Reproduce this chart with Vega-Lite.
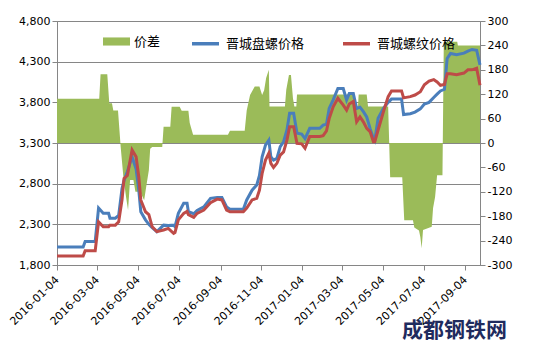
{
  "$schema": "https://vega.github.io/schema/vega-lite/v6.json",
  "width": 423,
  "height": 244,
  "autosize": {"type": "none"},
  "padding": {"left": 57, "top": 21, "right": 55, "bottom": 89},
  "background": "white",
  "title": {
    "text": "成都钢铁网",
    "orient": "bottom",
    "anchor": "end",
    "frame": "bounds",
    "offset": -7,
    "dx": -5,
    "font": "Noto Sans CJK SC",
    "fontSize": 21,
    "fontWeight": "bold",
    "color": "#1F2B5E"
  },
  "datasets": {
    "prices": [
      {"date": "2016-01-04", "晋城盘螺价格": 2020, "晋城螺纹价格": 1910},
      {"date": "2016-02-12", "晋城盘螺价格": 2020, "晋城螺纹价格": 1910},
      {"date": "2016-02-15", "晋城盘螺价格": 2090, "晋城螺纹价格": 1975},
      {"date": "2016-03-01", "晋城盘螺价格": 2090, "晋城螺纹价格": 1975},
      {"date": "2016-03-06", "晋城盘螺价格": 2500, "晋城螺纹价格": 2330},
      {"date": "2016-03-13", "晋城盘螺价格": 2435, "晋城螺纹价格": 2270},
      {"date": "2016-03-21", "晋城盘螺价格": 2435, "晋城螺纹价格": 2270},
      {"date": "2016-03-23", "晋城盘螺价格": 2375, "晋城螺纹价格": 2290},
      {"date": "2016-03-31", "晋城盘螺价格": 2375, "晋城螺纹价格": 2290},
      {"date": "2016-04-05", "晋城盘螺价格": 2410, "晋城螺纹价格": 2330},
      {"date": "2016-04-10", "晋城盘螺价格": 2740, "晋城螺纹价格": 2600},
      {"date": "2016-04-13", "晋城盘螺价格": 2840, "晋城螺纹价格": 2865},
      {"date": "2016-04-18", "晋城盘螺价格": 2950, "晋城螺纹价格": 2900},
      {"date": "2016-04-25", "晋城盘螺价格": 3130, "晋城螺纹价格": 3215},
      {"date": "2016-05-01", "晋城盘螺价格": 2980, "晋城螺纹价格": 3130},
      {"date": "2016-05-05", "晋城盘螺价格": 2720, "晋城螺纹价格": 2885},
      {"date": "2016-05-08", "晋城盘螺价格": 2455, "晋城螺纹价格": 2600},
      {"date": "2016-05-15", "晋城盘螺价格": 2355, "晋城螺纹价格": 2455},
      {"date": "2016-05-20", "晋城盘螺价格": 2300, "晋城螺纹价格": 2420},
      {"date": "2016-05-25", "晋城盘螺价格": 2260, "晋城螺纹价格": 2270},
      {"date": "2016-06-01", "晋城盘螺价格": 2210, "晋城螺纹价格": 2210},
      {"date": "2016-06-11", "晋城盘螺价格": 2290, "晋城螺纹价格": 2230},
      {"date": "2016-06-18", "晋城盘螺价格": 2285, "晋城螺纹价格": 2250},
      {"date": "2016-06-26", "晋城盘螺价格": 2290, "晋城螺纹价格": 2190},
      {"date": "2016-06-28", "晋城盘螺价格": 2270, "晋城螺纹价格": 2200},
      {"date": "2016-07-03", "晋城盘螺价格": 2435, "晋城螺纹价格": 2355},
      {"date": "2016-07-11", "晋城盘螺价格": 2560, "晋城螺纹价格": 2435},
      {"date": "2016-07-16", "晋城盘螺价格": 2560, "晋城螺纹价格": 2460},
      {"date": "2016-07-18", "晋城盘螺价格": 2455, "晋城螺纹价格": 2420},
      {"date": "2016-07-26", "晋城盘螺价格": 2430, "晋城螺纹价格": 2385},
      {"date": "2016-07-31", "晋城盘螺价格": 2470, "晋城螺纹价格": 2435},
      {"date": "2016-08-10", "晋城盘螺价格": 2515, "晋城螺纹价格": 2475},
      {"date": "2016-08-20", "晋城盘螺价格": 2620, "晋城螺纹价格": 2565},
      {"date": "2016-08-30", "晋城盘螺价格": 2630, "晋城螺纹价格": 2610},
      {"date": "2016-09-06", "晋城盘螺价格": 2630, "晋城螺纹价格": 2600},
      {"date": "2016-09-13", "晋城盘螺价格": 2515, "晋城螺纹价格": 2475},
      {"date": "2016-09-18", "晋城盘螺价格": 2485, "晋城螺纹价格": 2455},
      {"date": "2016-10-08", "晋城盘螺价格": 2485, "晋城螺纹价格": 2455},
      {"date": "2016-10-13", "晋城盘螺价格": 2600, "晋城螺纹价格": 2500},
      {"date": "2016-10-21", "晋城盘螺价格": 2720, "晋城螺纹价格": 2600},
      {"date": "2016-10-28", "晋城盘螺价格": 2785, "晋城螺纹价格": 2620},
      {"date": "2016-11-01", "晋城盘螺价格": 2900, "晋城螺纹价格": 2720},
      {"date": "2016-11-05", "晋城盘螺价格": 3130, "晋城螺纹价格": 2925},
      {"date": "2016-11-10", "晋城盘螺价格": 3275, "晋城螺纹价格": 3090},
      {"date": "2016-11-15", "晋城盘螺价格": 3335, "晋城螺纹价格": 3175},
      {"date": "2016-11-18", "晋城盘螺价格": 3130, "晋城螺纹价格": 3050},
      {"date": "2016-11-22", "晋城盘螺价格": 3090, "晋城螺纹价格": 3000},
      {"date": "2016-11-27", "晋城盘螺价格": 3110, "晋城螺纹价格": 3050},
      {"date": "2016-12-02", "晋城盘螺价格": 3255, "晋城螺纹价格": 3150},
      {"date": "2016-12-07", "晋城盘螺价格": 3315, "晋城螺纹价格": 3190},
      {"date": "2016-12-12", "晋城盘螺价格": 3460, "晋城螺纹价格": 3335},
      {"date": "2016-12-16", "晋城盘螺价格": 3665, "晋城螺纹价格": 3500},
      {"date": "2016-12-22", "晋城盘螺价格": 3665, "晋城螺纹价格": 3500},
      {"date": "2016-12-27", "晋城盘螺价格": 3420, "晋城螺纹价格": 3295},
      {"date": "2017-01-03", "晋城盘螺价格": 3410, "晋城螺纹价格": 3290},
      {"date": "2017-01-08", "晋城盘螺价格": 3355, "晋城螺纹价格": 3235},
      {"date": "2017-01-15", "晋城盘螺价格": 3480, "晋城螺纹价格": 3380},
      {"date": "2017-01-30", "晋城盘螺价格": 3480, "晋城螺纹价格": 3380},
      {"date": "2017-02-04", "晋城盘螺价格": 3520, "晋城螺纹价格": 3390},
      {"date": "2017-02-09", "晋城盘螺价格": 3530, "晋城螺纹价格": 3450},
      {"date": "2017-02-13", "晋城盘螺价格": 3725, "晋城螺纹价格": 3600},
      {"date": "2017-02-19", "晋城盘螺价格": 3830, "晋城螺纹价格": 3745},
      {"date": "2017-02-26", "晋城盘螺价格": 3970, "晋城螺纹价格": 3850},
      {"date": "2017-03-06", "晋城盘螺价格": 3970, "晋城螺纹价格": 3765},
      {"date": "2017-03-11", "晋城盘螺价格": 3830, "晋城螺纹价格": 3705},
      {"date": "2017-03-15", "晋城盘螺价格": 3910, "晋城螺纹价格": 3780},
      {"date": "2017-03-21", "晋城盘螺价格": 3910, "晋城螺纹价格": 3810},
      {"date": "2017-03-26", "晋城盘螺价格": 3725, "晋城螺纹价格": 3560},
      {"date": "2017-03-31", "晋城盘螺价格": 3740, "晋城螺纹价格": 3620},
      {"date": "2017-04-05", "晋城盘螺价格": 3685, "晋城螺纹价格": 3560},
      {"date": "2017-04-10", "晋城盘螺价格": 3620, "晋城螺纹价格": 3480},
      {"date": "2017-04-15", "晋城盘螺价格": 3480, "晋城螺纹价格": 3440},
      {"date": "2017-04-20", "晋城盘螺价格": 3355, "晋城螺纹价格": 3315},
      {"date": "2017-04-22", "晋城盘螺价格": 3330, "晋城螺纹价格": 3315},
      {"date": "2017-04-27", "晋城盘螺价格": 3605, "晋城螺纹价格": 3460},
      {"date": "2017-05-05", "晋城盘螺价格": 3725, "晋城螺纹价格": 3685},
      {"date": "2017-05-12", "晋城盘螺价格": 3800, "晋城螺纹价格": 3870},
      {"date": "2017-05-17", "晋城盘螺价格": 3840, "晋城螺纹价格": 3940},
      {"date": "2017-06-01", "晋城盘螺价格": 3840, "晋城螺纹价格": 3940},
      {"date": "2017-06-04", "晋城盘螺价格": 3650, "晋城螺纹价格": 3855},
      {"date": "2017-06-14", "晋城盘螺价格": 3660, "晋城螺纹价格": 3870},
      {"date": "2017-06-21", "晋城盘螺价格": 3680, "晋城螺纹价格": 3890},
      {"date": "2017-06-29", "晋城盘螺价格": 3720, "晋城螺纹价格": 3930},
      {"date": "2017-07-05", "晋城盘螺价格": 3780, "晋城螺纹价格": 4015},
      {"date": "2017-07-12", "晋城盘螺价格": 3800, "晋城螺纹价格": 4060},
      {"date": "2017-07-19", "晋城盘螺价格": 3860, "晋城螺纹价格": 4080},
      {"date": "2017-07-24", "晋城盘螺价格": 3900, "晋城螺纹价格": 4050},
      {"date": "2017-07-29", "晋城盘螺价格": 3940, "晋城螺纹价格": 4010},
      {"date": "2017-08-04", "晋城盘螺价格": 3960, "晋城螺纹价格": 4020},
      {"date": "2017-08-08", "晋城盘螺价格": 4340, "晋城螺纹价格": 4150},
      {"date": "2017-08-13", "晋城盘螺价格": 4400, "晋城螺纹价格": 4150},
      {"date": "2017-08-22", "晋城盘螺价格": 4385, "晋城螺纹价格": 4140},
      {"date": "2017-09-02", "晋城盘螺价格": 4405, "晋城螺纹价格": 4160},
      {"date": "2017-09-08", "晋城盘螺价格": 4430, "晋城螺纹价格": 4200},
      {"date": "2017-09-14", "晋城盘螺价格": 4450, "晋城螺纹价格": 4200},
      {"date": "2017-09-21", "晋城盘螺价格": 4440, "晋城螺纹价格": 4220},
      {"date": "2017-09-26", "晋城盘螺价格": 4260, "晋城螺纹价格": 4010}
    ],
    "spread": [
      {"date": "2016-01-04", "价差": 109},
      {"date": "2016-03-07", "价差": 109},
      {"date": "2016-03-09", "价差": 169},
      {"date": "2016-03-19", "价差": 169},
      {"date": "2016-03-22", "价差": 98},
      {"date": "2016-03-26", "价差": 98},
      {"date": "2016-03-28", "价差": 80},
      {"date": "2016-04-04", "价差": 80},
      {"date": "2016-04-08", "价差": -10},
      {"date": "2016-04-12", "价差": -83},
      {"date": "2016-04-16", "价差": -133},
      {"date": "2016-04-19", "价差": -165},
      {"date": "2016-04-22", "价差": -91},
      {"date": "2016-04-27", "价差": -91},
      {"date": "2016-04-30", "价差": -120},
      {"date": "2016-05-07", "价差": -120},
      {"date": "2016-05-13", "价差": -141},
      {"date": "2016-05-16", "价差": -108},
      {"date": "2016-05-20", "价差": -67},
      {"date": "2016-05-22", "价差": -14},
      {"date": "2016-05-25", "价差": -10},
      {"date": "2016-06-09", "价差": -10},
      {"date": "2016-06-11", "价差": 40},
      {"date": "2016-06-21", "价差": 40},
      {"date": "2016-06-23", "价差": 89},
      {"date": "2016-07-05", "价差": 89},
      {"date": "2016-07-08", "价差": 79},
      {"date": "2016-07-18", "价差": 79},
      {"date": "2016-07-20", "价差": 49},
      {"date": "2016-07-25", "价差": 20},
      {"date": "2016-09-15", "价差": 20},
      {"date": "2016-09-18", "价差": 30},
      {"date": "2016-10-10", "价差": 30},
      {"date": "2016-10-13", "价差": 80},
      {"date": "2016-10-18", "价差": 118},
      {"date": "2016-10-25", "价差": 139},
      {"date": "2016-11-01", "价差": 139},
      {"date": "2016-11-05", "价差": 118},
      {"date": "2016-11-08", "价差": 130},
      {"date": "2016-11-11", "价差": 160},
      {"date": "2016-11-15", "价差": 180},
      {"date": "2016-11-16", "价差": 90},
      {"date": "2016-12-09", "价差": 90},
      {"date": "2016-12-11", "价差": 131},
      {"date": "2016-12-15", "价差": 167},
      {"date": "2016-12-18", "价差": 167},
      {"date": "2016-12-21", "价差": 110},
      {"date": "2016-12-23", "价差": 90},
      {"date": "2016-12-26", "价差": 90},
      {"date": "2016-12-27", "价差": 119},
      {"date": "2017-03-21", "价差": 119},
      {"date": "2017-03-22", "价差": 90},
      {"date": "2017-03-28", "价差": 90},
      {"date": "2017-03-29", "价差": 119},
      {"date": "2017-04-10", "价差": 119},
      {"date": "2017-04-12", "价差": 90},
      {"date": "2017-05-12", "价差": 90},
      {"date": "2017-05-15", "价差": -84},
      {"date": "2017-06-02", "价差": -84},
      {"date": "2017-06-05", "价差": -190},
      {"date": "2017-06-18", "价差": -190},
      {"date": "2017-06-20", "价差": -208},
      {"date": "2017-06-27", "价差": -215},
      {"date": "2017-06-29", "价差": -231},
      {"date": "2017-07-01", "价差": -259},
      {"date": "2017-07-03", "价差": -214},
      {"date": "2017-07-16", "价差": -206},
      {"date": "2017-07-18", "价差": -160},
      {"date": "2017-07-21", "价差": -133},
      {"date": "2017-07-24", "价差": -79},
      {"date": "2017-08-01", "价差": -79},
      {"date": "2017-08-03", "价差": 249},
      {"date": "2017-08-23", "价差": 249},
      {"date": "2017-08-24", "价差": 240},
      {"date": "2017-09-26", "价差": 240}
    ]
  },
  "encoding": {
    "x": {
      "field": "date",
      "type": "temporal",
      "scale": {
        "type": "utc",
        "nice": false,
        "domain": [
          {"year": 2016, "month": 1, "date": 4, "utc": true},
          {"year": 2017, "month": 9, "date": 26, "utc": true}
        ]
      },
      "axis": {
        "title": null,
        "grid": false,
        "format": "%Y-%m-%d",
        "labelAngle": -45,
        "labelAlign": "right",
        "labelBaseline": "middle",
        "labelPadding": 8,
        "labelFontSize": 11,
        "labelOverlap": false,
        "labelFlush": false,
        "values": [
          {"year": 2016, "month": 1, "date": 4, "utc": true},
          {"year": 2016, "month": 3, "date": 4, "utc": true},
          {"year": 2016, "month": 5, "date": 4, "utc": true},
          {"year": 2016, "month": 7, "date": 4, "utc": true},
          {"year": 2016, "month": 9, "date": 4, "utc": true},
          {"year": 2016, "month": 11, "date": 4, "utc": true},
          {"year": 2017, "month": 1, "date": 4, "utc": true},
          {"year": 2017, "month": 3, "date": 4, "utc": true},
          {"year": 2017, "month": 5, "date": 4, "utc": true},
          {"year": 2017, "month": 7, "date": 4, "utc": true},
          {"year": 2017, "month": 9, "date": 4, "utc": true}
        ]
      }
    }
  },
  "layer": [
    {
      "data": {"name": "spread"},
      "mark": {"type": "area", "fillOpacity": 1, "interpolate": "linear"},
      "encoding": {
        "y": {
          "field": "价差",
          "type": "quantitative",
          "scale": {"domain": [-300, 300], "nice": false},
          "axis": {
            "orient": "right",
            "title": null,
            "grid": false,
            "format": "d",
            "labelOverlap": false,
            "values": [-300, -240, -180, -120, -60, 0, 60, 120, 180, 240, 300]
          }
        },
        "fill": {
          "datum": "价差",
          "type": "nominal",
          "scale": {"range": ["#9BBB59"]},
          "legend": {
            "title": null,
            "orient": "none",
            "legendX": 46,
            "legendY": 7,
            "padding": 0,
            "symbolType": "M-1,-0.3H1V0.3H-1Z",
            "symbolSize": 729,
            "symbolStrokeWidth": 0,
            "labelFont": "Noto Sans CJK SC",
            "labelFontSize": 13,
            "labelColor": "#000000",
            "labelOffset": 4
          }
        }
      }
    },
    {
      "data": {"name": "prices"},
      "transform": [
        {"fold": ["晋城盘螺价格", "晋城螺纹价格"], "as": ["series", "price"]}
      ],
      "mark": {"type": "line", "strokeWidth": 3, "interpolate": "linear"},
      "encoding": {
        "y": {
          "field": "price",
          "type": "quantitative",
          "scale": {"domain": [1800, 4800], "nice": false, "zero": false},
          "axis": {
            "orient": "left",
            "title": null,
            "grid": true,
            "gridColor": "#868686",
            "format": ",d",
            "labelOverlap": false,
            "values": [1800, 2300, 2800, 3300, 3800, 4300, 4800]
          }
        },
        "stroke": {
          "field": "series",
          "type": "nominal",
          "scale": {
            "domain": ["晋城盘螺价格", "晋城螺纹价格"],
            "range": ["#4A7EBB", "#BE4B48"]
          },
          "legend": {
            "title": null,
            "orient": "none",
            "direction": "horizontal",
            "legendX": 133,
            "legendY": 7,
            "padding": 0,
            "symbolType": "stroke",
            "symbolSize": 729,
            "symbolStrokeWidth": 3.5,
            "columnPadding": 31,
            "labelFont": "Noto Sans CJK SC",
            "labelFontSize": 13,
            "labelColor": "#000000",
            "labelOffset": 5
          }
        }
      }
    }
  ],
  "resolve": {"scale": {"y": "independent"}},
  "config": {
    "font": "DejaVu Sans",
    "view": {"stroke": "#868686", "strokeWidth": 1},
    "axis": {
      "domainColor": "#868686",
      "tickColor": "#868686",
      "tickSize": 5,
      "labelColor": "#000000",
      "labelFont": "DejaVu Sans",
      "labelFontSize": 11
    },
    "locale": {
      "number": {
        "decimal": ".",
        "thousands": ",",
        "grouping": [3],
        "currency": ["", ""],
        "minus": "-"
      }
    }
  }
}
